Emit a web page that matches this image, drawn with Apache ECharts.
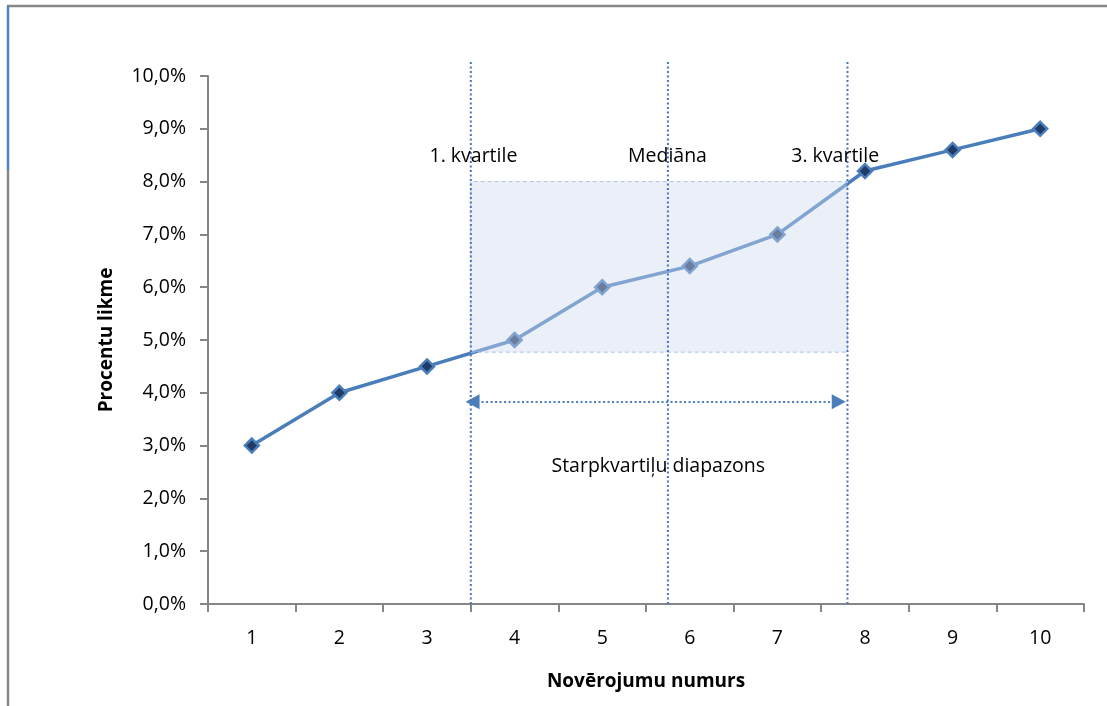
<!DOCTYPE html>
<html>
<head>
<meta charset="utf-8">
<script src="https://cdn.jsdelivr.net/npm/echarts@6/dist/echarts.min.js"></script>
<style>html,body{margin:0;padding:0;background:#fff}#c{width:1107px;height:706px}</style>
</head>
<body>
<div id="c"></div>
<script>
var categories = ['1','2','3','4','5','6','7','8','9','10'];
var rates = [3.0, 4.0, 4.5, 5.0, 6.0, 6.4, 7.0, 8.2, 8.6, 9.0];
var quartileX = [3.5, 5.75, 7.8];
var quartileLabels = ['1. kvartile', 'Mediāna', '3. kvartile'];
var labelX = [3.53, 5.745, 7.66];
var labelY = 8.48;
var boxRange = [[3.5, 4.77], [7.8, 8.0]];
var arrowRange = [[3.52, 3.83], [7.70, 3.83]];
var rangeLabel = {x: 5.64, y: 2.61, text: 'Starpkvartiļu diapazons'};
var lineTop = 10.3;

var FONT = '"Open Sans", Lato, sans-serif';
var AX = '#868686';
var BLUE = '#4a7ebb';

var chart = echarts.init(document.getElementById('c'), null, {renderer: 'canvas'});

var series = [];
series.push({
  type: 'line', xAxisIndex: 0, data: rates, z: 3,
  lineStyle: {color: BLUE, width: 3.5},
  symbol: 'diamond', symbolSize: 14,
  itemStyle: {color: '#1f3b66', borderColor: BLUE, borderWidth: 2.5},
  emphasis: {disabled: true}
});
series.push({
  type: 'line', xAxisIndex: 1, data: [], z: 8, silent: true,
  markArea: {
    silent: true, z: 8,
    itemStyle: {color: 'rgba(205,218,238,0.42)', borderColor: '#a9c3e6', borderWidth: 1, borderType: [4, 3]},
    data: [[{coord: boxRange[0]}, {coord: boxRange[1]}]]
  }
});
quartileX.forEach(function (q) {
  series.push({
    type: 'line', xAxisIndex: 1, clip: false, z: 9, silent: true,
    data: [[q, 0], [q, lineTop]], symbol: 'none',
    lineStyle: {color: '#4474c0', width: 2, type: [2, 2.5]}
  });
});
series.push({
  type: 'scatter', xAxisIndex: 1, z: 10, silent: true, symbolSize: 0,
  itemStyle: {opacity: 1},
  data: quartileX.map(function (q, i) { return {value: [labelX[i], labelY], name: quartileLabels[i]}; }),
  label: {show: true, position: 'inside', formatter: '{b}', color: '#000', fontFamily: FONT, fontSize: 19.5}
});
series.push({
  type: 'scatter', xAxisIndex: 1, z: 10, silent: true, symbolSize: 0,
  itemStyle: {opacity: 1},
  data: [{value: [rangeLabel.x, rangeLabel.y], name: rangeLabel.text}],
  label: {show: true, position: 'inside', formatter: '{b}', color: '#000', fontFamily: FONT, fontSize: 19.5}
});
series.push({
  type: 'line', xAxisIndex: 1, data: [], z: 9, silent: true,
  markLine: {
    silent: true, symbol: ['triangle', 'triangle'], symbolSize: [15, 14],
    label: {show: false},
    lineStyle: {color: BLUE, width: 2, type: [2, 2.5]},
    data: [[{coord: arrowRange[0], symbolRotate: 90}, {coord: arrowRange[1], symbolRotate: -90}]]
  }
});

chart.setOption({
  animation: false,
  grid: {left: 208, right: 23, top: 76, bottom: 102},
  graphic: [
    {type: 'line', shape: {x1: 7, y1: 6, x2: 1107, y2: 6}, style: {stroke: '#888', lineWidth: 2.5}},
    {type: 'line', shape: {x1: 8, y1: 6, x2: 8, y2: 170}, style: {stroke: '#4f81bd', lineWidth: 2.5}},
    {type: 'line', shape: {x1: 8, y1: 170, x2: 8, y2: 706}, style: {stroke: '#888', lineWidth: 2.5}}
  ],
  xAxis: [{
    type: 'category', data: categories, boundaryGap: true,
    name: 'Novērojumu numurs', nameLocation: 'middle', nameGap: 68,
    nameTextStyle: {fontFamily: FONT, fontSize: 19, fontWeight: 'bold', color: '#000'},
    axisLine: {lineStyle: {color: AX, width: 2}},
    axisTick: {show: true, length: 8, lineStyle: {color: AX, width: 2}},
    axisLabel: {fontFamily: FONT, fontSize: 19.5, color: '#000', margin: 24},
    splitLine: {show: false}
  }, {
    type: 'value', min: 0.5, max: 10.5, show: false
  }],
  yAxis: {
    type: 'value', min: 0, max: 10, interval: 1,
    name: 'Procentu likme', nameLocation: 'middle', nameGap: 92,
    nameTextStyle: {fontFamily: FONT, fontSize: 19, fontWeight: 'bold', color: '#000'},
    axisLine: {show: true, lineStyle: {color: AX, width: 2}},
    axisTick: {show: true, length: 8, lineStyle: {color: AX, width: 2}},
    axisLabel: {fontFamily: FONT, fontSize: 19.5, color: '#000', margin: 22,
      formatter: function (v) { return v.toFixed(1).replace('.', ',') + '%'; }},
    splitLine: {show: false}
  },
  series: series
});
</script>
</body>
</html>
